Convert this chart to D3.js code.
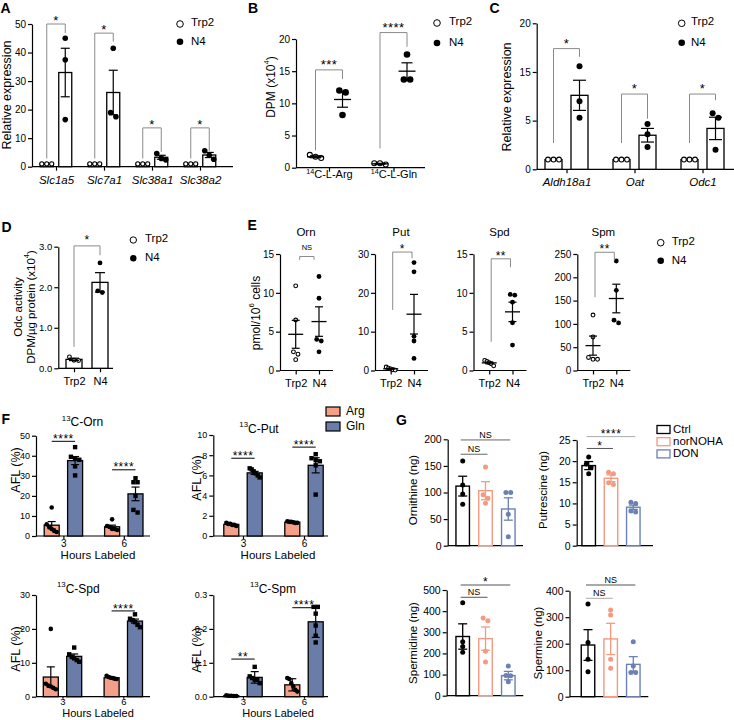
<!DOCTYPE html>
<html><head><meta charset="utf-8">
<script src="https://cdn.jsdelivr.net/npm/d3@7"></script>
<style>body{margin:0;background:#fff}svg{display:block}</style>
</head><body><script>
// ================= DATA =================
// Panel A
const aGenes = ["Slc1a5","Slc7a1","Slc38a1","Slc38a2"];
const aTrp2Dots = [[1,1,1],[1,1,1],[1,1,1],[1,1,1]];
const aN4Dots = [[45,37.5,16.5],[41.5,19,17.5],[4.6,2.9,2.4],[5.6,4.0,2.6]];
const aTrp2Mean = [1,1,1,1];
const aN4Mean = [33,26,3.3,4.1];
const aN4Sem = [8.5,7.8,0.7,0.9];
const aTicks = [0,10,20,30,40,50];
const aSig = ["*","*","*","*"];
const aBrTop = [50,46.8,13.6,13.6], aBrLeft = [2.9,2.9,2.9,2.9], aBrRight = [46.8,43.8,5.2,5.4];
// Panel B
const bSubstrates = ["Arg","Gln"];
const bTrp2Dots = [[1.5,2.0,1.7],[0.5,0.7,0.7]];
const bN4Dots = [[12.0,11.7,8.2],[17.6,13.7,13.7]];
const bTrp2Mean = [1.7,0.6], bTrp2Sem = [0.15,0.07];
const bN4Mean = [10.6,15.0], bN4Sem = [1.2,1.3];
const bTicks = [0,5,10,15,20];
const bSig = ["***","****"];
const bBrTop = [15.2,21.0], bBrLeft = [2.7,3.0], bBrRight = [13.8,18.8];
// Panel C
const cGenes = ["Aldh18a1","Oat","Odc1"];
const cTrp2Dots = [[1,1,1],[1,1,1],[1,1,1]];
const cN4Dots = [[10.6,7.0,5.3],[4.65,3.6,2.3],[5.75,5.3,2.0]];
const cTrp2Mean = [1,1,1];
const cN4Mean = [7.6,3.5,4.2], cN4Sem = [1.55,0.7,1.15];
const cTicks = [0,5,10,15], cTickLabels = ["0","5","15","20"];
const cSig = ["*","*","*"];
const cBrTop = [12.4,7.73,7.73], cBrLeft = [2.7,2.7,2.7], cBrRight = [11.56,5.2,7.1];
// Panel D
const dGroups = ["Trp2","N4"];
const dDots = [[0.28,0.2,0.19],[2.6,1.87,1.91]];
const dMean = [0.22,2.12], dSem = [0.03,0.24];
const dTicks = [0,1,2,3];
const dSig = "*", dBr = [3.02,0.53,2.79];
// Panel E
const eMetabolites = ["Orn","Put","Spd","Spm"];
const eTrp2Dots = [[10.9,6.5,2.4,2.1,1.4],[0.9,0.6,0.4,0.2,0.1],[1.3,1.15,1.0,0.85,0.6],[119,72,28,24,24]];
const eN4Dots = [[12.1,9.3,4.0,3.8,2.4],[27.8,25.4,8.8,7.6,3.1],[9.8,9.7,8.8,6.15,3.27],[235,172,108,102]];
const eTrp2Mean = [4.66,0.44,0.98,53.4], eTrp2Sem = [1.8,0.15,0.12,20.5];
const eN4Mean = [6.3,14.5,7.55,154.5], eN4Sem = [1.9,5.1,1.25,30.7];
const eMax = [15,30,15,250];
const eTicks = [[0,5,10,15],[0,10,20,30],[0,5,10,15],[0,50,100,150,200,250]];
const eSig = ["NS","*","**","**"];
const eBrTop = [14.68,30.5,14.38,253.7], eBrLeft = [14.25,15.6,3.7,157.3], eBrRight = [14.25,28.9,13.3,235.7];
// Panel F
const fHours = ["3","6"];
const fOrnArgDots = [[14.2,5.8,4.5,3.5,2.5,2.0],[8.3,5.0,4.5,3.5,3.5,3.0]];
const fOrnGlnDots = [[44.3,39.5,38.5,38.0,34.7,30.2],[28.8,26.8,26.8,20.0,13.0,11.7]];
const fOrnArgMean = [5.4,4.6], fOrnArgErr = [1.8,0.8];
const fOrnGlnMean = [37.6,21.0], fOrnGlnErr = [2.0,3.4];
const fOrnSig = ["****","****"], fOrnSigY = [47.2,33];
const fPutArgDots = [[1.3,1.2,1.2,1.1,1.1,1.0],[1.45,1.4,1.4,1.35,1.3,1.3]];
const fPutGlnDots = [[6.7,6.6,6.4,6.2,6.0,5.8],[8.1,7.7,7.5,7.4,7.0,4.1]];
const fPutArgMean = [1.15,1.37], fPutArgErr = [0.05,0.03];
const fPutGlnMean = [6.25,7.0], fPutGlnErr = [0.15,0.75];
const fPutSig = ["****","****"], fPutSigY = [7.7,8.8];
const fSpdArgDots = [[20.0,3.8,3.3,3.0,2.6,2.2],[6.2,5.8,5.6,5.5,5.3,5.2]];
const fSpdGlnDots = [[14.5,12.5,11.8,11.3,10.8,10.3],[24.3,23.0,22.6,22.0,21.2,20.5]];
const fSpdArgMean = [5.8,5.6], fSpdArgErr = [3.0,0.2];
const fSpdGlnMean = [11.9,22.3], fSpdGlnErr = [0.7,0.6];
const fSpdSig = [null,"****"], fSpdSigY = [null,25.3];
const fSpmArgDots = [[0.004,0.003,0.003,0.002,0.002],[0.055,0.052,0.04,0.03,0.02,0.015]];
const fSpmGlnDots = [[0.088,0.06,0.055,0.05,0.05,0.04],[0.265,0.265,0.245,0.21,0.18,0.16]];
const fSpmArgMean = [0.003,0.035], fSpmArgErr = [0.001,0.018];
const fSpmGlnMean = [0.057,0.221], fSpmGlnErr = [0.017,0.046];
const fSpmSig = ["**","****"], fSpmSigY = [0.111,0.2625];
// Panel G
const gTreat = ["Ctrl","norNOHA","DON"];
const gOrnDots = [[159,114,97,78],[148,96,89,80],[100,100,59,17]];
const gOrnMean = [112,103.4,69], gOrnSem = [18.6,17,21];
const gOrnSig = ["NS","NS"], gOrnSigY = [198.8,171.9], gOrnSigTo = [2,1];
const gPutDots = [[21.0,19.3,18.5,17.0],[17.4,17.0,14.9,14.5],[10.3,10.0,8.2,8.0]];
const gPutMean = [18.95,15.95,9.1], gPutSem = [0.95,0.8,0.5];
const gPutSig = ["****","*"], gPutSigY = [25.8,23.0], gPutSigTo = [2,1];
const gSpdDots = [[440,255,233,205],[355,368,210,160],[140,96,94,66]];
const gSpdMean = [280,270,95], gSpdSem = [60,55,20];
const gSpdSig = ["*","NS"], gSpdSigY = [523.6,465.5], gSpdSigTo = [2,1];
const gSpmDots = [[350,205,141,94],[327,308,141,107],[207,116,91,91]];
const gSpmMean = [195,218,122], gSpmSem = [58,59,29];
const gSpmSig = ["NS","NS"], gSpmSigY = [421.5,371.3], gSpmSigTo = [2,1];

// ================= STYLE / HELPERS =================
const FONT = "'Liberation Sans', Arial, Helvetica, sans-serif";
const SALMON = "#f4a088", SLATE = "#6a7ca8", GBLUE = "#6b80b4", GSAL = "#f39a80", GREY = "#8a8a8a";
const svg = d3.select("body").append("svg").attr("width",734).attr("height",720)
  .attr("font-family",FONT);

function ln(x1,y1,x2,y2,color="#000",sw=1.2){
  svg.append("line").attr("x1",x1).attr("y1",y1).attr("x2",x2).attr("y2",y2)
    .attr("stroke",color).attr("stroke-width",sw);
}
function rich(t, parts, fs){
  let up = false;
  parts.forEach(p=>{
    const sp = t.append("tspan").text(p.t);
    if (p.sup){ sp.attr("font-size",fs*0.65); if(!up){ sp.attr("dy",-0.4*fs); up=true; } }
    else if (up){ sp.attr("dy",0.4*fs); up=false; }
  });
}
function txt(x,y,s,o={}){
  const fs = o.fs||11;
  const t = svg.append("text").attr("x",x).attr("y",y).attr("font-size",fs)
    .attr("text-anchor",o.anchor||"middle").attr("dominant-baseline",o.base||"middle").attr("fill",o.fill||"#000");
  if(o.bold) t.attr("font-weight","bold");
  if(o.italic) t.attr("font-style","italic");
  if(o.rotate) t.attr("transform",`rotate(-90,${x},${y})`);
  if(o.ls!=null) t.attr("letter-spacing",o.ls);
  if(Array.isArray(s)) rich(t,s,fs); else t.text(s);
  return t;
}
function letter(s,x,y){ txt(x,y,s,{fs:14,bold:true,anchor:"start",base:"alphabetic"}); }
function star(label,x,yc,fs){
  if(!label) return;
  if(label==="NS") txt(x,yc,label,{fs});
  else txt(x,yc+0.55*fs,label,{fs,base:"alphabetic",ls:0.5});
}
function yAxis(x, y, ticks, labels, fs=10){
  const ax = d3.axisLeft(y).tickValues(ticks).tickSize(4).tickSizeOuter(0).tickPadding(2);
  if(labels) ax.tickFormat((d,i)=>labels[i]);
  const g = svg.append("g").attr("transform",`translate(${x},0)`).call(ax);
  g.attr("font-family",FONT).attr("font-size",fs);
  g.select(".domain").attr("stroke-width",1.2);
  g.selectAll(".tick line").attr("stroke-width",1.2);
  g.selectAll(".tick text").attr("fill","#000");
  return g;
}
function xAxis(x, x0, x1, y0, o={}){
  ln(x0,y0,x1,y0,"#000",1.2);
  const ax = d3.axisBottom(x).tickSize(o.tick??4).tickSizeOuter(0).tickPadding(o.pad??2);
  const g = svg.append("g").attr("transform",`translate(0,${y0})`).call(ax);
  g.select(".domain").remove();
  g.attr("font-family",FONT).attr("font-size",o.fs||11);
  g.selectAll(".tick line").attr("stroke-width",1.2);
  if(o.tick===0) g.selectAll(".tick line").remove();
  if(o.noLabels) g.selectAll(".tick text").remove();
  g.selectAll(".tick text").attr("fill","#000").attr("font-style",o.italic?"italic":null);
  return g;
}
function swarm(vals, y, r, maxW){
  const pts = vals.map(v=>({v,py:y(v)})).sort((a,b)=>a.py-b.py);
  const cl=[]; let cur=[];
  pts.forEach(p=>{ if(cur.length && p.py-cur[cur.length-1].py >= 2*r*0.9){cl.push(cur);cur=[];} cur.push(p); });
  if(cur.length) cl.push(cur);
  cl.forEach(c=>{ const n=c.length; let s=2*r*0.95; if(n>1 && (n-1)*s>maxW) s=maxW/(n-1);
    c.forEach((p,i)=>p.dx=(i-(n-1)/2)*s); });
  return pts;
}
function dots(vals, cx, y, r, o={}){
  const pts = swarm(vals, y, r, o.spread??10);
  const fill = o.open ? "#fff" : (o.color||"#000");
  const stroke = o.open ? "#000" : (o.color||"#000");
  if(o.shape==="square"){
    svg.append("g").selectAll("rect").data(pts).join("rect")
      .attr("x",p=>cx+p.dx-r).attr("y",p=>p.py-r).attr("width",2*r).attr("height",2*r).attr("fill",fill);
  } else {
    svg.append("g").selectAll("circle").data(pts).join("circle")
      .attr("cx",p=>cx+p.dx).attr("cy",p=>p.py).attr("r",o.open?r-0.5:r)
      .attr("fill",fill).attr("stroke",stroke).attr("stroke-width",o.open?1.1:0);
  }
}
function bar(y, cx, v, w, fill, stroke, sw=1.3){
  svg.append("rect").attr("x",cx-w/2).attr("y",y(v)).attr("width",w).attr("height",y(0)-y(v))
    .attr("fill",fill).attr("stroke",stroke).attr("stroke-width",sw);
}
function errBar(y, cx, m, e, cw, color="#000", sw=1.2){
  if(!e) return;
  ln(cx,y(m-e),cx,y(m+e),color,sw);
  ln(cx-cw/2,y(m+e),cx+cw/2,y(m+e),color,sw);
  ln(cx-cw/2,y(m-e),cx+cw/2,y(m-e),color,sw);
}
function meanSem(y, cx, m, e, mw, cw){
  ln(cx-mw/2,y(m),cx+mw/2,y(m),"#000",1.3);
  errBar(y,cx,m,e,cw,"#000",1.2);
}
function bracket(y, xL, xR, top, lb, rb, label, fs, gap, color=GREY){
  const p = d3.path(); p.moveTo(xL,y(lb)); p.lineTo(xL,y(top)); p.lineTo(xR,y(top)); p.lineTo(xR,y(rb));
  svg.append("path").attr("d",p.toString()).attr("fill","none").attr("stroke",color).attr("stroke-width",1);
  star(label,(xL+xR)/2,y(top)-gap,fs);
}
function legendCircles(cx,y1,y2,tx,r,fs){
  svg.append("circle").attr("cx",cx).attr("cy",y1).attr("r",r).attr("fill","#fff").attr("stroke","#000").attr("stroke-width",1);
  svg.append("circle").attr("cx",cx).attr("cy",y2).attr("r",r).attr("fill","#000");
  txt(tx,y1-1,"Trp2",{fs,anchor:"start"});
  txt(tx,y2,"N4",{fs,anchor:"start"});
}

// ================= PANEL A =================
{
  const y = d3.scaleLinear().domain([0,50]).range([166.7,24]);
  const x = d3.scalePoint().domain(aGenes).range([56,200]);
  yAxis(32,y,aTicks,null,10);
  xAxis(x,32,233,166.7,{fs:11.5,tick:4,pad:5.5,italic:true});
  const off=9.25, bw=13;
  aGenes.forEach((g,i)=>{
    const c0=x(g)-off, c1=x(g)+off;
    bar(y,c0,aTrp2Mean[i],bw,"#fff","#000");
    dots(aTrp2Dots[i],c0,y,2.6,{open:true,spread:10});
    bar(y,c1,aN4Mean[i],bw,"#fff","#000");
    dots(aN4Dots[i],c1,y,2.8,{spread:9});
    errBar(y,c1,aN4Mean[i],aN4Sem[i],9);
    bracket(y,c0,c1,aBrTop[i],aBrLeft[i],aBrRight[i],aSig[i],13,6);
  });
  legendCircles(180,24,41.7,191,3.3,11.5);
  txt(8,95,"Relative expression",{fs:12.5,rotate:true});
  letter("A",0.5,13);
}
// ================= PANEL B =================
{
  const y = d3.scaleLinear().domain([0,20]).range([167.7,39]);
  const x = d3.scalePoint().domain(bSubstrates).range([329,393.5]);
  yAxis(296,y,bTicks,null,10);
  const gx = xAxis(x,296,425,167.7,{fs:11,tick:4,pad:6.5});
  gx.selectAll(".tick text").each(function(d){ const t=d3.select(this).text(null); rich(t,[{t:"14",sup:true},{t:"C-L-"+d}],11); });
  bSubstrates.forEach((s,i)=>{
    const c0=x(s)-13.5, c1=x(s)+13.5;
    dots(bTrp2Dots[i],c0,y,3,{open:true,spread:12});
    meanSem(y,c0,bTrp2Mean[i],bTrp2Sem[i],17,11);
    dots(bN4Dots[i],c1,y,3.3,{spread:13});
    meanSem(y,c1,bN4Mean[i],bN4Sem[i],17,11);
    bracket(y,c0,c1,bBrTop[i],bBrLeft[i],bBrRight[i],bSig[i],13,8);
  });
  legendCircles(437,23,43,449,3.3,11.5);
  txt(272,87,[{t:"DPM (x10"},{t:"4",sup:true},{t:")"}],{fs:12,rotate:true});
  letter("B",248,13);
}
// ================= PANEL C =================
{
  const y = d3.scaleLinear().domain([0,15]).range([169.3,23.3]);
  const x = d3.scalePoint().domain(cGenes).range([566.5,702.5]);
  yAxis(536.7,y,cTicks,cTickLabels,10);
  xAxis(x,536.7,734,169.3,{fs:11.5,tick:4,pad:4.5,italic:true});
  const off=13, bw=17;
  cGenes.forEach((g,i)=>{
    const c0=x(g)-off, c1=x(g)+off;
    bar(y,c0,cTrp2Mean[i],bw,"#fff","#000");
    dots(cTrp2Dots[i],c0,y,2.9,{open:true,spread:12});
    bar(y,c1,cN4Mean[i],bw,"#fff","#000");
    dots(cN4Dots[i],c1,y,3,{spread:10});
    errBar(y,c1,cN4Mean[i],cN4Sem[i],13);
    bracket(y,c0,c1,cBrTop[i],cBrLeft[i],cBrRight[i],cSig[i],13,8);
  });
  legendCircles(681.7,23.3,42.7,691,3.3,11.5);
  txt(508,97,"Relative expression",{fs:12.5,rotate:true});
  letter("C",489.5,13);
}
// ================= PANEL D =================
{
  const y = d3.scaleLinear().domain([0,3]).range([368.3,246.7]);
  const x = d3.scalePoint().domain(dGroups).range([74,100]);
  yAxis(58.3,y,dTicks,null,9.5);
  xAxis(x,58.3,113,368.3,{fs:11,tick:4,pad:5});
  dGroups.forEach((g,i)=>{
    bar(y,x(g),dMean[i],16,"#fff","#000");
    dots(dDots[i],x(g),y,2.4,{open:i===0,spread:10});
    errBar(y,x(g),dMean[i],dSem[i],10);
  });
  bracket(y,x("Trp2"),x("N4"),dBr[0],dBr[1],dBr[2],dSig,12,8);
  legendCircles(133.3,240,258.3,145,3.2,11.5);
  txt(19,307,"Odc activity",{fs:11.5,rotate:true});
  txt(32,307,[{t:"DPM/µg protein (x10"},{t:"4",sup:true},{t:")"}],{fs:11.5,rotate:true});
  letter("D",1.5,232);
}
// ================= PANEL E =================
{
  const axX = [280,375,473.5,577.3];
  eMetabolites.forEach((m,i)=>{
    const ax = axX[i];
    const y = d3.scaleLinear().domain([0,eMax[i]]).range([370.5,254]);
    const x = d3.scalePoint().domain(["Trp2","N4"]).range([ax+15.7,ax+39]);
    yAxis(ax,y,eTicks[i],null,10);
    xAxis(x,ax,ax+53,370.5,{fs:11,tick:4,pad:5});
    dots(eTrp2Dots[i],x("Trp2"),y,2.4,{open:true,spread:9});
    meanSem(y,x("Trp2"),eTrp2Mean[i],eTrp2Sem[i],15,8);
    dots(eN4Dots[i],x("N4"),y,2.4,{spread:9});
    meanSem(y,x("N4"),eN4Mean[i],eN4Sem[i],15,8);
    if(i===0) bracket(y,x("Trp2")+4,x("N4")-5,eBrTop[i],eBrLeft[i],eBrRight[i],eSig[i],7.5,8);
    else bracket(y,x("Trp2")+2,x("N4")-2,eBrTop[i],eBrLeft[i],eBrRight[i],eSig[i],12,5.5);
    txt(ax+26,233,m,{fs:11.5});
  });
  legendCircles(660.7,242.7,260.7,671.7,3.3,11.5);
  txt(256.7,313,[{t:"pmol/10"},{t:"6",sup:true},{t:" cells"}],{fs:12,rotate:true});
  letter("E",247.5,230);
}
// ================= PANEL F =================
function fPanel(c){
  const y = d3.scaleLinear().domain([0,c.max]).range([c.y0,c.yTop]);
  const x = d3.scalePoint().domain(fHours).range([c.c0,c.c1]);
  yAxis(c.ax,y,c.ticks,c.labels,9);
  xAxis(x,c.ax,c.x1,c.y0,{fs:c.xfs,tick:c.xt,pad:c.xp});
  const off=11.7, bw=15;
  fHours.forEach((h,i)=>{
    const ca=x(h)-off, cg=x(h)+off;
    bar(y,ca,c.argMean[i],bw,SALMON,"#000");
    bar(y,cg,c.glnMean[i],bw,SLATE,"#000");
    dots(c.argDots[i],ca,y,2.3,{spread:10});
    dots(c.glnDots[i],cg,y,2.2,{spread:10,shape:"square"});
    errBar(y,ca,c.argMean[i],c.argErr[i],8);
    errBar(y,cg,c.glnMean[i],c.glnErr[i],8);
    if(c.sig[i]){
      ln(ca,y(c.sigY[i]),cg,y(c.sigY[i]),"#000",1);
      star(c.sig[i],(ca+cg)/2,y(c.sigY[i])-5,12);
    }
  });
  txt(c.tx,c.ty,[{t:"13",sup:true},{t:c.title}],{fs:12});
  txt(c.ytx,c.yty,"AFL (%)",{fs:12.5,rotate:true});
  txt(c.hx,c.y0+c.hdy,"Hours Labeled",{fs:c.hfs});
}
fPanel({ax:36,x1:150,y0:536,yTop:435.7,max:50,ticks:[0,10,20,30,40,50],c0:63.4,c1:123.8,
  argDots:fOrnArgDots,glnDots:fOrnGlnDots,argMean:fOrnArgMean,argErr:fOrnArgErr,glnMean:fOrnGlnMean,glnErr:fOrnGlnErr,
  sig:fOrnSig,sigY:fOrnSigY,title:"C-Orn",tx:82.5,ty:423.3,ytx:17,yty:470,hx:98,hdy:19.5,hfs:11.5,xfs:10,xt:3,xp:1});
fPanel({ax:213.3,x1:328,y0:536,yTop:435,max:10,ticks:[0,2,4,6,8,10],c0:243,c1:304,
  argDots:fPutArgDots,glnDots:fPutGlnDots,argMean:fPutArgMean,argErr:fPutArgErr,glnMean:fPutGlnMean,glnErr:fPutGlnErr,
  sig:fPutSig,sigY:fPutSigY,title:"C-Put",tx:259,ty:430,ytx:198,yty:478,hx:278,hdy:19.5,hfs:11.5,xfs:10,xt:3,xp:1});
fPanel({ax:36,x1:150,y0:696.7,yTop:595,max:30,ticks:[0,10,20,30],c0:62.5,c1:123.3,
  argDots:fSpdArgDots,glnDots:fSpdGlnDots,argMean:fSpdArgMean,argErr:fSpdArgErr,glnMean:fSpdGlnMean,glnErr:fSpdGlnErr,
  sig:fSpdSig,sigY:fSpdSigY,title:"C-Spd",tx:78.3,ty:590,ytx:17,yty:649,hx:98,hdy:17,hfs:11,xfs:9.5,xt:2,xp:0});
fPanel({ax:213.3,x1:328,y0:696.7,yTop:595,max:0.3,ticks:[0,0.1,0.2,0.3],labels:["0.0","0.1","0.2","0.3"],c0:243,c1:304,
  argDots:fSpmArgDots,glnDots:fSpmGlnDots,argMean:fSpmArgMean,argErr:fSpmArgErr,glnMean:fSpmGlnMean,glnErr:fSpmGlnErr,
  sig:fSpmSig,sigY:fSpmSigY,title:"C-Spm",tx:273,ty:590,ytx:198,yty:650,hx:278,hdy:17,hfs:11,xfs:9.5,xt:2,xp:0});
{
  [["Arg",SALMON,407],["Gln",SLATE,422]].forEach(([n,col,yy])=>{
    svg.append("rect").attr("x",326).attr("y",yy).attr("width",14).attr("height",9).attr("fill",col).attr("stroke","#000").attr("stroke-width",1.2);
    txt(346,yy+4.5,n,{fs:12,anchor:"start"});
  });
  letter("F",1.5,424.3);
}
// ================= PANEL G =================
const gColors = ["#000",GSAL,GBLUE];
function gPanel(c){
  const y = d3.scaleLinear().domain([0,c.max]).range([c.y0,c.yTop]);
  const x = d3.scalePoint().domain(gTreat).range([c.c0,c.c2]);
  yAxis(c.ax,y,c.ticks,null,10.5);
  xAxis(x,c.ax,c.x1,c.y0,{tick:0,noLabels:true});
  gTreat.forEach((t,i)=>{
    bar(y,x(t),c.mean[i],13.5,"#fff",gColors[i],1.4);
    dots(c.dots[i],x(t),y,2.5,{color:gColors[i],spread:10});
    errBar(y,x(t),c.mean[i],c.sem[i],9,gColors[i],1.3);
  });
  c.sig.forEach((s,k)=>{
    const xa=x(gTreat[0])-2, xb=x(gTreat[c.to[k]])+2, yy=y(c.sigY[k]);
    ln(xa,yy,xb,yy,c.sigColor[k],1);
    if(s==="NS") star(s,(xa+xb)/2,yy-4.5,9); else star(s,(xa+xb)/2,yy-5.5,12);
  });
  txt(c.ytx,c.yty,c.title,{fs:11.5,rotate:true});
}
gPanel({ax:447.7,x1:523,y0:545.7,yTop:439.3,max:200,ticks:[0,50,100,150,200],c0:462.7,c2:508.3,
  dots:gOrnDots,mean:gOrnMean,sem:gOrnSem,sig:gOrnSig,sigY:gOrnSigY,to:gOrnSigTo,sigColor:["#666","#666"],
  title:"Ornithine (ng)",ytx:414,yty:490});
gPanel({ax:576.7,x1:653,y0:545.7,yTop:440,max:25,ticks:[0,5,10,15,20,25],c0:588.7,c2:633.3,
  dots:gPutDots,mean:gPutMean,sem:gPutSem,sig:gPutSig,sigY:gPutSigY,to:gPutSigTo,sigColor:["#aaa","#555"],
  title:"Putrescine (ng)",ytx:544,yty:490});
gPanel({ax:446.7,x1:523.3,y0:695.7,yTop:590,max:500,ticks:[0,100,200,300,400,500],c0:462.7,c2:508.3,
  dots:gSpdDots,mean:gSpdMean,sem:gSpdSem,sig:gSpdSig,sigY:gSpdSigY,to:gSpdSigTo,sigColor:["#555","#555"],
  title:"Spermidine (ng)",ytx:414,yty:643});
gPanel({ax:569.5,x1:648.3,y0:696.7,yTop:590.7,max:400,ticks:[0,100,200,300,400],c0:588,c2:633.3,
  dots:gSpmDots,mean:gSpmMean,sem:gSpmSem,sig:gSpmSig,sigY:gSpmSigY,to:gSpmSigTo,sigColor:["#555","#aaa"],
  title:"Spermine (ng)",ytx:539,yty:643});
{
  gTreat.forEach((t,i)=>{
    const yy=[429.5,441.7,453.9][i];
    svg.append("rect").attr("x",657).attr("y",yy-4).attr("width",13).attr("height",8).attr("fill","#fff").attr("stroke",gColors[i]).attr("stroke-width",1.3);
    txt(673,yy,t,{fs:11.5,anchor:"start"});
  });
  letter("G",396,425);
}
</script></body></html>
